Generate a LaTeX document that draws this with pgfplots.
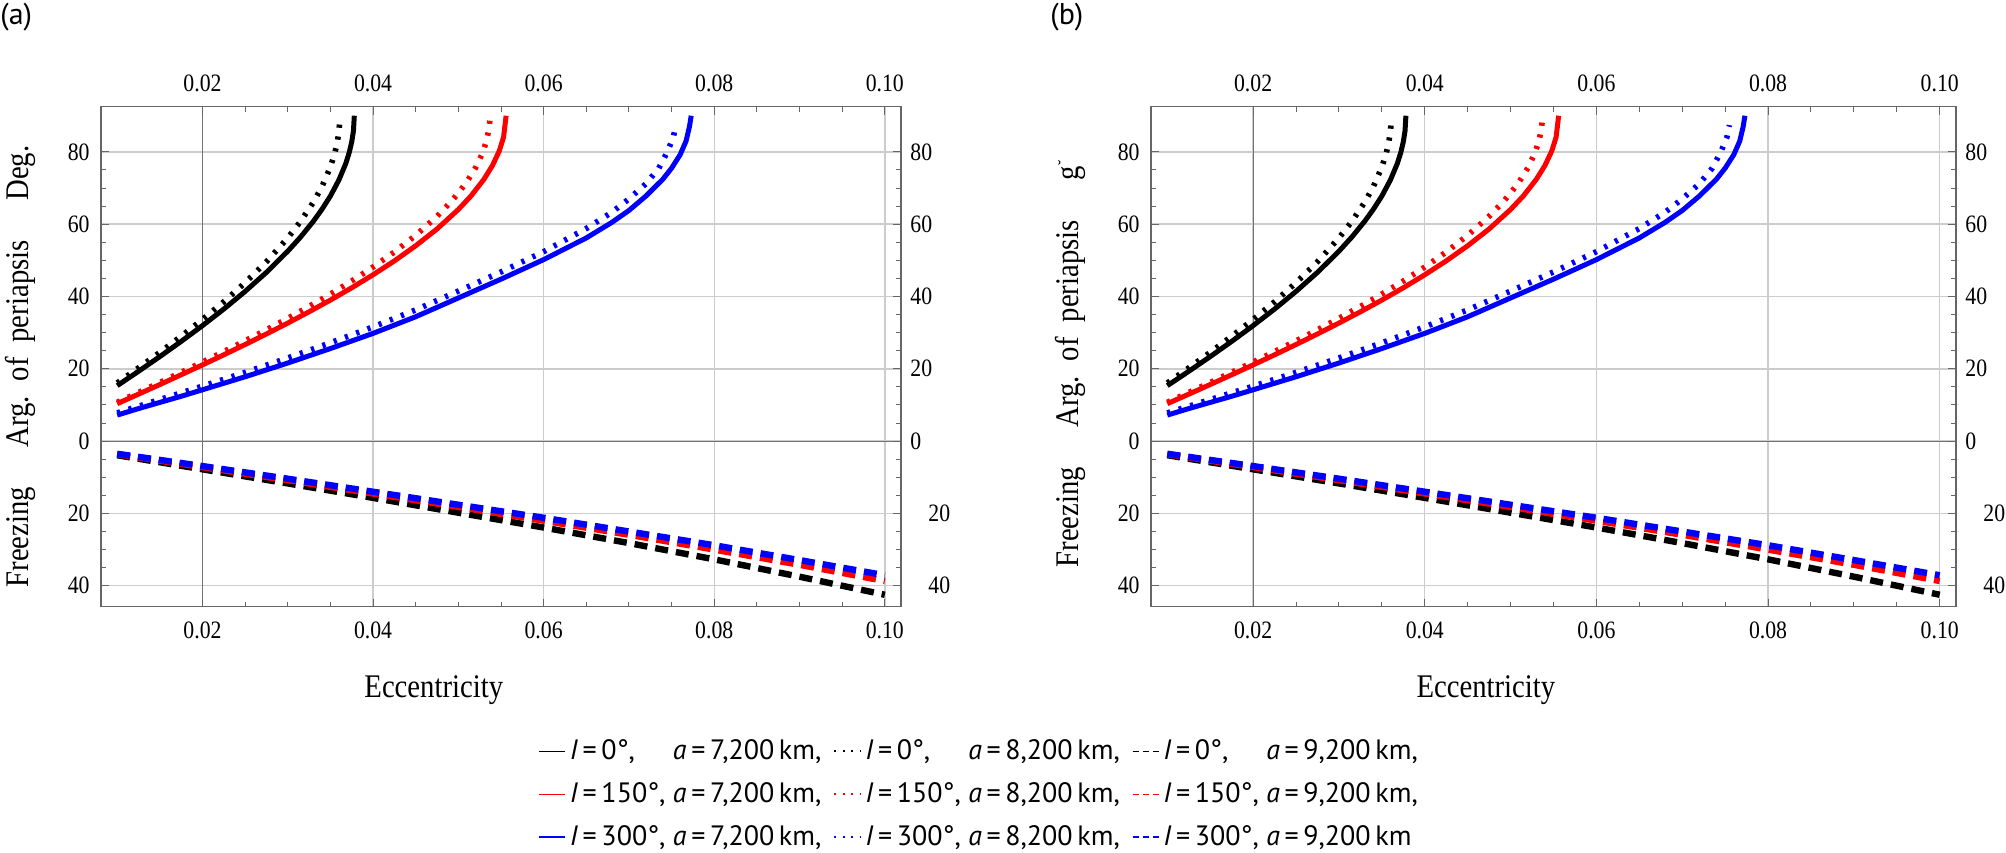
\documentclass[border=0pt]{standalone}
\usepackage{pgfplots}
\usepackage{pgfplotstable}
\pgfplotsset{compat=1.18}
\usepackage{fontspec}
\setmainfont{Liberation Serif}[FakeStretch=0.87]
\newfontfamily\legfont{PT Sans}
\newfontfamily\panelfont{PT Sans}
\newcommand\ticksize{\fontsize{12.5}{14}\selectfont}
\newcommand\labsize{\fontsize{16.5}{19}\selectfont}
\newcommand\legsize{\legfont\fontsize{14}{15}\selectfont}
\newlength\Iw
\newcommand\LE[3]{\makebox[\Iw][l]{\textit{I}\,=\,#1°,}\textit{a}\,=\,#2\,km#3}

% black, I=0
\pgfplotstableread{
e g
0.0100 15.34
0.0125 19.31
0.0150 23.38
0.0175 27.58
0.0200 31.94
0.0225 36.53
0.0250 41.41
0.0275 46.68
0.0300 52.53
0.0315 56.44
0.0330 60.81
0.0340 64.09
0.0350 67.80
0.0360 72.25
0.0368 76.79
0.0372 79.77
0.0375 82.79
0.0377 85.83
0.0378 90.00
}\tBS
\pgfplotstableread{
e g
0.0100 16.08
0.0125 20.26
0.0150 24.55
0.0175 29.00
0.0200 33.64
0.0225 38.55
0.0250 43.83
0.0275 49.62
0.0300 56.21
0.0315 60.77
0.0330 66.08
0.0340 70.34
0.0350 75.83
0.0355 79.53
0.0358 82.60
0.0360 85.70
0.03608 88.00
}\tBD
\pgfplotstableread{
e g
0.010 -3.9
0.020 -7.8
0.030 -11.7
0.040 -15.7
0.050 -19.8
0.060 -23.9
0.070 -28.2
0.080 -32.7
0.090 -37.5
0.100 -42.5
}\tBH
% red, I=150
\pgfplotstableread{
e g
0.0100 10.36
0.0125 12.99
0.0150 15.65
0.0175 18.35
0.0200 21.08
0.0225 23.87
0.0250 26.72
0.0275 29.64
0.0300 32.65
0.0325 35.77
0.0350 39.01
0.0375 42.41
0.0400 46.01
0.0425 49.85
0.0450 54.04
0.0475 58.68
0.0500 64.07
0.0515 67.86
0.0530 72.42
0.0540 76.23
0.0548 80.27
0.0553 84.05
0.0556 90.00
}\tRS
\pgfplotstableread{
e g
0.0100 10.73
0.0125 13.46
0.0150 16.22
0.0175 19.02
0.0200 21.87
0.0225 24.77
0.0250 27.74
0.0275 30.80
0.0300 33.96
0.0325 37.25
0.0350 40.68
0.0375 44.29
0.0400 48.15
0.0425 52.31
0.0450 56.93
0.0475 62.19
0.0490 65.85
0.0500 68.61
0.0510 71.74
0.0520 75.54
0.0528 79.49
0.0533 83.02
0.0536 86.50
0.0537 89.00
}\tRD
\pgfplotstableread{
e g
0.010 -3.6
0.020 -7.2
0.030 -10.8
0.040 -14.5
0.050 -18.2
0.060 -22.0
0.070 -25.9
0.080 -30.0
0.090 -34.2
0.100 -38.7
}\tRH
% blue, I=300
\pgfplotstableread{
e g
0.0100 7.2
0.0125 9.0
0.0150 10.7
0.0175 12.4
0.0200 14.2
0.0250 17.8
0.0300 21.6
0.0350 25.6
0.0400 29.8
0.0450 34.4
0.0500 39.6
0.0550 44.8
0.0600 50.2
0.0650 56.2
0.0680 60.5
0.0700 63.8
0.0720 67.8
0.0740 72.5
0.0750 75.5
0.0760 79.2
0.0767 83.0
0.0771 87.0
0.0773 90.0
}\tLS
\pgfplotstableread{
e g
0.0100 7.8
0.0150 11.5
0.0200 15.2
0.0250 19.0
0.0300 23.0
0.0350 27.2
0.0400 31.6
0.0450 36.3
0.0500 41.5
0.0550 46.8
0.0600 52.4
0.0650 58.8
0.0680 63.3
0.0700 67.0
0.0720 71.2
0.0735 75.5
0.0745 80.0
0.0752 84.0
0.0755 87.4
}\tLD
\pgfplotstableread{
e g
0.010 -3.5
0.020 -6.9
0.030 -10.4
0.040 -14.0
0.050 -17.6
0.060 -21.2
0.070 -25.0
0.080 -28.8
0.090 -32.9
0.100 -37.1
}\tLH

\pgfplotsset{
  solidc/.style={line width=2.5pt},
  dotc/.style={line width=2.8pt, dash pattern=on 1.6pt off 4.4pt},
  dashc/.style={line width=3.2pt, dash pattern=on 6.5pt off 4pt},
  common/.style={
    scale only axis, height=250pt, anchor=south west,
    xmin=0.0081, xmax=0.1019, ymin=-45.8, ymax=92.5,
    xtick={0.02,0.04,0.06,0.08,0.10}, ytick={-40,-20,0,20,40,60,80},
  },
  panel/.style={
    common,
    minor x tick num=3, minor y tick num=3,
    grid=major, major grid style={black!20, line width=0.7pt},
    axis line style={black!60, line width=0.7pt},
    tick style={black!60, line width=0.5pt},
    major tick length=4pt, minor tick length=2.5pt,
    xticklabel style={font=\ticksize, inner sep=0pt, anchor=north, yshift=-7.5pt,
      /pgf/number format/.cd, fixed, fixed zerofill, precision=2, assume math mode=true},
    yticklabel={\pgfmathparse{abs(\tick)}\pgfmathprintnumber[assume math mode=true,fixed,precision=0]{\pgfmathresult}},
    yticklabel style={font=\ticksize, inner sep=0pt, anchor=east, xshift=-5.5pt},
    extra x ticks={0.02}, extra x tick labels={},
    extra y ticks={0}, extra y tick labels={},
    extra tick style={major grid style={black!55, line width=0.6pt}},
    xlabel={Eccentricity},
    xlabel style={font=\labsize, at={(axis description cs:0.416,0)}, anchor=base, yshift=-45.6pt},
    ylabel style={font=\labsize, anchor=base},
    legend image code/.code={\draw[##1] (0pt,0pt) -- (13pt,0pt);},
  },
  labaxis/.style={
    common,
    axis line style={draw=none}, tick style={draw=none},
    minor tick num=0,
    xticklabel pos=upper, yticklabel pos=right,
    xticklabel style={font=\ticksize, inner sep=0pt, anchor=south, yshift=7pt,
      /pgf/number format/.cd, fixed, fixed zerofill, precision=2, assume math mode=true},
    yticklabel={\pgfmathtruncatemacro\tnegv{\tick<0}\ifnum\tnegv=1\hspace*{9pt}\fi\pgfmathparse{abs(\tick)}\pgfmathprintnumber[assume math mode=true,fixed,precision=0]{\pgfmathresult}},
    yticklabel style={font=\ticksize, inner sep=0pt, anchor=west, xshift=4.5pt},
  },
}

\newcommand\plotall{%
  \addplot[black, solidc, forget plot] table[x=e,y=g] {\tBS};
  \addplot[black, dotc, forget plot] table[x=e,y=g] {\tBD};
  \addplot[black, dashc, forget plot] table[x=e,y=g] {\tBH};
  \addplot[red, solidc, forget plot] table[x=e,y=g] {\tRS};
  \addplot[red, dotc, forget plot] table[x=e,y=g] {\tRD};
  \addplot[red, dashc, forget plot] table[x=e,y=g] {\tRH};
  \addplot[blue, solidc, forget plot] table[x=e,y=g] {\tLS};
  \addplot[blue, dotc, forget plot] table[x=e,y=g] {\tLD};
  \addplot[blue, dashc, forget plot] table[x=e,y=g] {\tLH};
}

\begin{document}
\settowidth{\Iw}{\legsize\textit{I}\,=\,150°,\ }%
\begin{tikzpicture}
\path[use as bounding box] (0,0) rectangle (1003pt,426pt);

\begin{axis}[panel, at={(50.5pt,122.65pt)}, width=400pt,
  ylabel={Freezing\hspace{1.2em}Arg.\hspace{0.45em}of\hspace{0.45em}periapsis\hspace{1.2em}Deg.},
  ylabel style={at={(axis description cs:-0.09125,0.4804)}},
  legend columns=3,
  legend style={at={(1.099,-0.375)}, anchor=center, draw=none, fill=none,
    font=\legsize, legend cell align=left, row sep=6pt,
    /tikz/every even column/.append style={column sep=4pt}},
]
  \addlegendimage{black, line width=0.7pt}\addlegendentry{\LE{0}{7,200}{,}}
  \addlegendimage{black, line width=0.9pt, dash pattern=on 1pt off 3.2pt}\addlegendentry{\LE{0}{8,200}{,}}
  \addlegendimage{black, line width=0.7pt, dash pattern=on 3pt off 2pt}\addlegendentry{\LE{0}{9,200}{,}}
  \addlegendimage{red, line width=0.7pt}\addlegendentry{\LE{150}{7,200}{,}}
  \addlegendimage{red, line width=0.9pt, dash pattern=on 1pt off 3.2pt}\addlegendentry{\LE{150}{8,200}{,}}
  \addlegendimage{red, line width=0.7pt, dash pattern=on 3pt off 2pt}\addlegendentry{\LE{150}{9,200}{,}}
  \addlegendimage{blue, line width=0.7pt}\addlegendentry{\LE{300}{7,200}{,}}
  \addlegendimage{blue, line width=0.9pt, dash pattern=on 1pt off 3.2pt}\addlegendentry{\LE{300}{8,200}{,}}
  \addlegendimage{blue, line width=0.7pt, dash pattern=on 3pt off 2pt}\addlegendentry{\LE{300}{9,200}{}}
  \plotall
\end{axis}
\begin{axis}[labaxis, at={(50.5pt,122.65pt)}, width=400pt]
\end{axis}

\begin{axis}[panel, at={(575.5pt,122.65pt)}, width=402.5pt,
  ylabel={Freezing\hspace{1.2em}Arg.\hspace{0.45em}of\hspace{0.45em}periapsis\hspace{1.2em}g\kern0.5pt\raisebox{0.5ex}{\small ˘}},
  ylabel style={at={(axis description cs:-0.0907,0.486)}},
]
  \plotall
\end{axis}
\begin{axis}[labaxis, at={(575.5pt,122.65pt)}, width=402.5pt]
\end{axis}

\node[anchor=north west, inner sep=0pt, font=\panelfont\fontsize{15}{18}\selectfont] at (0pt,424.5pt) {(a)};
\node[anchor=north west, inner sep=0pt, font=\panelfont\fontsize{15}{18}\selectfont] at (525pt,424.5pt) {(b)};
\end{tikzpicture}
\end{document}
